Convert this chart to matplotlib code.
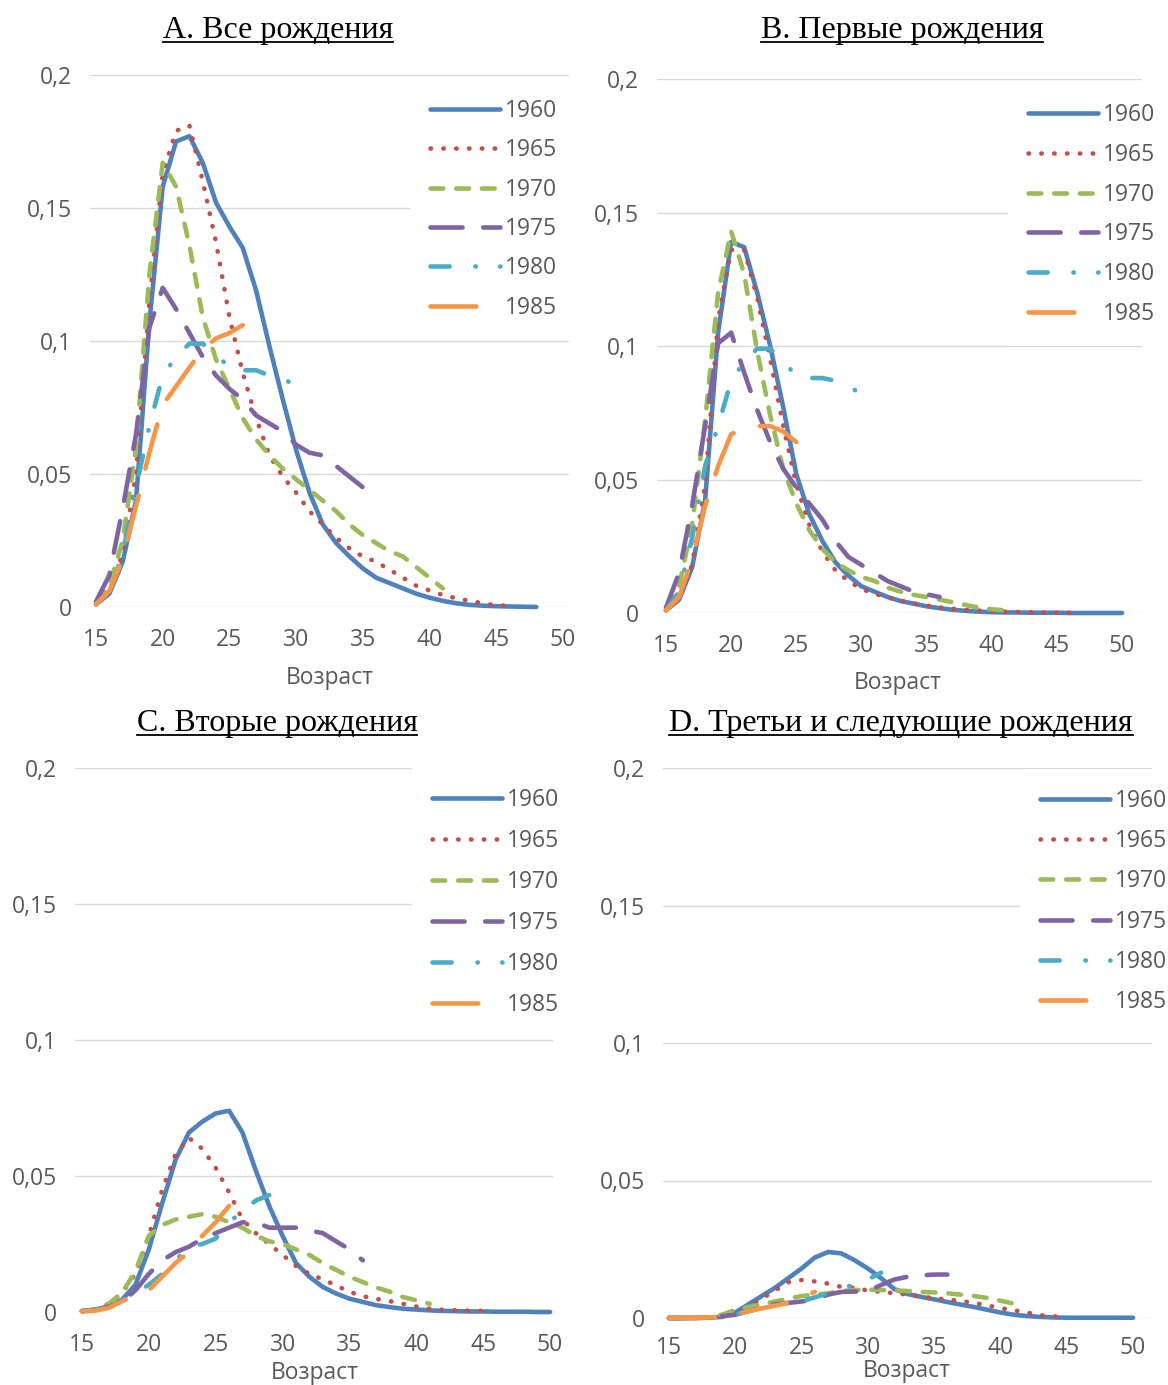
import matplotlib
matplotlib.use("Agg")
import matplotlib.pyplot as plt
from matplotlib.lines import Line2D

W, H = 1168, 1385
AGE0 = 15

COHORTS = ["1960", "1965", "1970", "1975", "1980", "1985"]
COLORS = ["#4F81BD", "#C0504D", "#9BBB59", "#8064A2", "#4BACC6", "#F79646"]
DASHES = ["-", (0, (0.1, 2.7)), (0, (2.8, 2.8)), (0, (7, 4.5)),
          (0, (4.2, 5.6, 0.1, 5.3)), (0, (10, 6))]

TITLES = ["A. Все рождения", "B. Первые рождения",
          "C. Вторые рождения", "D. Третьи и следующие рождения"]
XTICKS = [15, 20, 25, 30, 35, 40, 45, 50]
YTICKS = [0, 0.05, 0.1, 0.15, 0.2]
YTICKLABELS = ["0", "0,05", "0,1", "0,15", "0,2"]

# ---- A. all births (ages from 15) ----
A_1960 = [0.001, 0.005, 0.017, 0.040, 0.107, 0.158, 0.175, 0.177, 0.167, 0.152, 0.143, 0.135,
          0.119, 0.098, 0.078, 0.059, 0.043, 0.031, 0.024, 0.019, 0.0145, 0.011, 0.009, 0.007,
          0.005, 0.0035, 0.0023, 0.0014, 0.0008, 0.0005, 0.0003, 0.0002, 0.0001, 0.0]
A_1965 = [0.001, 0.006, 0.020, 0.050, 0.115, 0.163, 0.179, 0.181, 0.160, 0.137, 0.109, 0.088,
          0.071, 0.057, 0.049, 0.043, 0.036, 0.031, 0.026, 0.022, 0.019, 0.017, 0.014, 0.011,
          0.008, 0.0062, 0.0045, 0.0033, 0.0023, 0.0014, 0.0006, 0.0005]
A_1970 = [0.002, 0.008, 0.025, 0.060, 0.125, 0.167, 0.158, 0.136, 0.109, 0.093, 0.082, 0.071,
          0.063, 0.057, 0.052, 0.048, 0.044, 0.040, 0.036, 0.031, 0.027, 0.024, 0.021, 0.019,
          0.015, 0.011, 0.007]
A_1975 = [0.002, 0.012, 0.037, 0.065, 0.105, 0.120, 0.112, 0.103, 0.094, 0.087, 0.082, 0.078,
          0.072, 0.069, 0.066, 0.061, 0.058, 0.057, 0.053, 0.049, 0.045, 0.041]
A_1980 = [0.001, 0.006, 0.020, 0.045, 0.068, 0.087, 0.094, 0.099, 0.099, 0.095, 0.090, 0.089,
          0.089, 0.087, 0.086, 0.083]
A_1985 = [0.001, 0.006, 0.018, 0.038, 0.058, 0.076, 0.083, 0.090, 0.097, 0.101, 0.103, 0.106]

# ---- B. first births ----
B_1960 = [0.001, 0.005, 0.017, 0.042, 0.105, 0.139, 0.137, 0.120, 0.100, 0.077, 0.052, 0.037,
          0.027, 0.019, 0.014, 0.010, 0.008, 0.006, 0.0045, 0.0035, 0.0025, 0.0018, 0.0012,
          0.0008, 0.0005, 0.0003, 0.0002, 0.0002, 0.0001, 0.0001, 0.0001, 0.0, 0.0, 0.0, 0.0, 0.0]
B_1965 = [0.001, 0.005, 0.018, 0.048, 0.110, 0.136, 0.136, 0.118, 0.095, 0.070, 0.048, 0.033,
          0.023, 0.016, 0.012, 0.009, 0.0072, 0.0058, 0.0046, 0.0036, 0.0028, 0.0021, 0.0016,
          0.0012, 0.0009, 0.0007, 0.0005, 0.0004, 0.0003, 0.0002, 0.0001, 0.0001]
B_1970 = [0.002, 0.010, 0.033, 0.072, 0.120, 0.143, 0.127, 0.098, 0.074, 0.054, 0.041, 0.031,
          0.024, 0.019, 0.016, 0.0135, 0.012, 0.0095, 0.008, 0.0068, 0.006, 0.005, 0.004, 0.003,
          0.002, 0.0014, 0.001]
B_1975 = [0.002, 0.015, 0.040, 0.070, 0.101, 0.105, 0.090, 0.076, 0.064, 0.054, 0.047, 0.041,
          0.035, 0.027, 0.021, 0.018, 0.015, 0.012, 0.010, 0.008, 0.007, 0.006]
B_1980 = [0.001, 0.008, 0.028, 0.055, 0.070, 0.087, 0.094, 0.099, 0.099, 0.094, 0.089, 0.088,
          0.088, 0.087, 0.085, 0.082]
B_1985 = [0.001, 0.006, 0.020, 0.040, 0.055, 0.067, 0.069, 0.070, 0.070, 0.068, 0.064]

# ---- C. second births ----
C_1960 = [0.0004, 0.0008, 0.002, 0.0045, 0.010, 0.023, 0.040, 0.056, 0.066, 0.070, 0.073, 0.074,
          0.066, 0.052, 0.039, 0.028, 0.018, 0.013, 0.0092, 0.0068, 0.0049, 0.0037, 0.0025,
          0.0018, 0.0012, 0.0009, 0.0006, 0.0004, 0.0003, 0.0002, 0.0002, 0.0001, 0.0001,
          0.0001, 0.0, 0.0]
C_1965 = [0.0003, 0.001, 0.003, 0.007, 0.014, 0.028, 0.045, 0.058, 0.064, 0.060, 0.053, 0.044,
          0.034, 0.029, 0.025, 0.021, 0.017, 0.014, 0.012, 0.0098, 0.0074, 0.0058, 0.0048,
          0.004, 0.003, 0.002, 0.0012, 0.0008, 0.0006, 0.0005, 0.0004]
C_1970 = [0.0003, 0.001, 0.003, 0.007, 0.015, 0.028, 0.032, 0.034, 0.035, 0.036, 0.035, 0.033,
          0.031, 0.028, 0.026, 0.025, 0.023, 0.021, 0.018, 0.0155, 0.013, 0.011, 0.009, 0.0075,
          0.0055, 0.0043, 0.003]
C_1975 = [0.0003, 0.0008, 0.002, 0.0037, 0.008, 0.014, 0.019, 0.022, 0.024, 0.027, 0.029, 0.031,
          0.033, 0.033, 0.031, 0.031, 0.031, 0.030, 0.029, 0.026, 0.023, 0.019]
C_1980 = [0.0003, 0.0008, 0.002, 0.004, 0.007, 0.010, 0.014, 0.019, 0.024, 0.025, 0.027, 0.033,
          0.037, 0.041, 0.043]
C_1985 = [0.0002, 0.0005, 0.0015, 0.004, 0.006, 0.008, 0.013, 0.018, 0.022, 0.028, 0.033, 0.039]

# ---- D. third and higher births ----
D_1960 = [0.0, 0.0, 0.0, 0.0001, 0.0004, 0.002, 0.005, 0.008, 0.011, 0.0145, 0.018, 0.022,
          0.024, 0.0235, 0.021, 0.018, 0.0145, 0.0105, 0.0087, 0.0077, 0.0068, 0.0058, 0.0049,
          0.004, 0.003, 0.002, 0.0012, 0.0007, 0.0004, 0.0002, 0.0001, 0.0001, 0.0001, 0.0001,
          0.0001, 0.0001]
D_1965 = [0.0, 0.0, 0.0, 0.0003, 0.0008, 0.0018, 0.004, 0.007, 0.010, 0.013, 0.0138, 0.0133,
          0.0125, 0.0113, 0.011, 0.010, 0.0095, 0.009, 0.0085, 0.0078, 0.0072, 0.0067, 0.0062,
          0.0055, 0.0046, 0.0036, 0.0028, 0.002, 0.001, 0.0006, 0.0004]
D_1970 = [0.0, 0.0, 0.0001, 0.0003, 0.0012, 0.003, 0.004, 0.005, 0.006, 0.007, 0.008, 0.0085,
          0.009, 0.0098, 0.0102, 0.0103, 0.0102, 0.010, 0.0098, 0.0095, 0.0093, 0.009, 0.0085,
          0.008, 0.0073, 0.0063, 0.0052]
D_1975 = [0.0, 0.0, 0.0, 0.0002, 0.0006, 0.0012, 0.0025, 0.0038, 0.005, 0.0055, 0.006, 0.0068,
          0.0085, 0.0095, 0.0096, 0.0098, 0.012, 0.014, 0.015, 0.0155, 0.0158, 0.0158]
D_1980 = [0.0, 0.0, 0.0, 0.0002, 0.0005, 0.0012, 0.0025, 0.0038, 0.005, 0.0055, 0.006, 0.0075,
          0.009, 0.011, 0.012, 0.014, 0.0165]
D_1985 = [0.0001, 0.0001, 0.0001, 0.0002, 0.0005, 0.0012, 0.0025, 0.0035, 0.0045, 0.0055,
          0.0075, 0.0095]

PANELS = [
    [A_1960, A_1965, A_1970, A_1975, A_1980, A_1985],
    [B_1960, B_1965, B_1970, B_1975, B_1980, B_1985],
    [C_1960, C_1965, C_1970, C_1975, C_1980, C_1985],
    [D_1960, D_1965, D_1970, D_1975, D_1980, D_1985],
]

# layout in pixels: plot box (left, right, top, bottom), x-limits, legend anchor,
# title centre/baseline, x-label centre
BOXES = [(90, 569, 75, 607), (657, 1142, 79, 613), (75, 553, 768, 1312), (663, 1152, 768, 1318)]
XLIMS = [(14.55, 50.45), (14.31, 51.53), (14.48, 50.22), (14.55, 51.43)]
LEG_AT = [(410, 79), (1008, 83), (412, 768), (1020, 769)]
LEG_SPACING = [0.67, 0.69, 0.74, 0.71]
XPAD = [15, 15, 15, 13]
TITLE_AT = [(278, 38), (902, 38), (277, 731), (901, 731)]
XLABEL_AT = [(330, 678), (898, 683), (315, 1373), (907, 1371)]

GREY = "#595959"
SANS = ["Open Sans", "DejaVu Sans"]
SERIF = ["Liberation Serif", "DejaVu Serif"]
FS = 16.5

fig = plt.figure(figsize=(W / 100, H / 100), dpi=100)

for k, series in enumerate(PANELS):
    l, r, t, b = BOXES[k]
    ax = fig.add_axes([l / W, 1 - b / H, (r - l) / W, (b - t) / H])
    for vals, name, col, ls in zip(series, COHORTS, COLORS, DASHES):
        ages = list(range(AGE0, AGE0 + len(vals)))
        ax.plot(ages, vals, color=col, lw=3.3, linestyle=ls, label=name,
                dash_capstyle="round", solid_capstyle="round", solid_joinstyle="round",
                clip_on=False, zorder=3)
    ax.set_xlim(*XLIMS[k])
    ax.set_ylim(0, 0.2)
    ax.set_xticks(XTICKS)
    ax.set_yticks(YTICKS)
    ax.set_yticklabels(YTICKLABELS)
    ax.grid(axis="y", color="#D9D9D9", lw=1.0, zorder=0)
    ax.set_axisbelow(True)
    for s in ax.spines.values():
        s.set_visible(False)
    ax.tick_params(axis="both", length=0, colors=GREY, labelsize=FS)
    ax.tick_params(axis="y", pad=13)
    ax.tick_params(axis="x", pad=XPAD[k])
    for lab in ax.get_xticklabels() + ax.get_yticklabels():
        lab.set_family(SANS)

    lx, ly = LEG_AT[k]
    leg = ax.legend(loc="upper left",
                    bbox_to_anchor=((lx - l) / (r - l), 1 - (ly - t) / (b - t)),
                    frameon=True, fancybox=False, framealpha=1, edgecolor="none",
                    facecolor="white", borderaxespad=0, borderpad=0.87,
                    handlelength=3.05, handletextpad=0.22, labelspacing=LEG_SPACING[k],
                    prop={"family": SANS, "size": FS})
    leg.set_zorder(5)
    for txt in leg.get_texts():
        txt.set_color(GREY)

    xx, yy = XLABEL_AT[k]
    fig.text(xx / W, 1 - yy / H, "Возраст", ha="center", va="center",
             color=GREY, fontsize=FS, family=SANS)

titles = []
for k, name in enumerate(TITLES):
    tx, ty = TITLE_AT[k]
    titles.append(fig.text(tx / W, 1 - ty / H, name, ha="center", va="baseline",
                           fontsize=23, family=SERIF, color="black"))

# underline the titles
fig.canvas.draw()
renderer = fig.canvas.get_renderer()
for k, t in enumerate(titles):
    bb = t.get_window_extent(renderer)
    yb = H - TITLE_AT[k][1] - 4
    fig.add_artist(Line2D([bb.x0 / W, bb.x1 / W], [yb / H, yb / H],
                          transform=fig.transFigure, color="black", lw=1.3))

fig.savefig("out.png", dpi=100)
